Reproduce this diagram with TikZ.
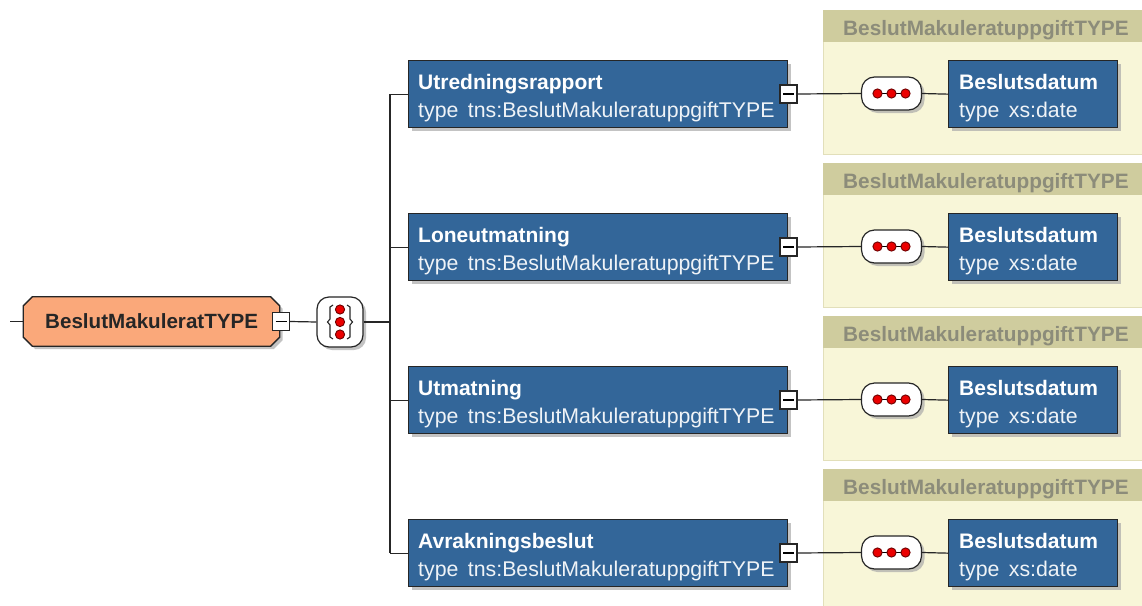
\documentclass[tikz,border=0pt]{standalone}
\usepackage{fontspec}
\setmainfont{Liberation Sans}
\usetikzlibrary{shadows,calc}
\definecolor{xblue}{RGB}{51,102,153}
\definecolor{xorange}{RGB}{250,168,122}
\definecolor{xpanel}{RGB}{248,246,216}
\definecolor{xhead}{RGB}{207,204,158}
\definecolor{xheadtext}{RGB}{140,140,122}
\definecolor{xpanelborder}{RGB}{226,223,186}
\definecolor{xdotred}{RGB}{235,0,0}
\definecolor{xdotedge}{RGB}{110,0,0}
\definecolor{xshadow}{RGB}{170,170,170}
\tikzset{
  shd/.style={drop shadow={shadow xshift=3pt,shadow yshift=-3pt,fill=xshadow,opacity=0.7}},
  bluebox/.style={draw=black!85,line width=1.3pt,fill=xblue,minimum width=379pt,minimum height=67pt,inner sep=0pt,shd},
  targetbox/.style={draw=black!85,line width=1.3pt,fill=xblue,minimum width=169pt,minimum height=67pt,inner sep=0pt,shd},
  rootframe/.style={minimum width=256pt,minimum height=49pt,inner sep=0pt},
  rootshape/.style={draw=black!85,line width=1.3pt,fill=xorange,shd},
  minusbox/.style={draw=black!85,line width=1.3pt,fill=white,minimum width=17pt,minimum height=18pt,inner sep=0pt},
  seqbox/.style={draw=black!85,line width=1.2pt,fill=white,rounded corners=13pt,minimum width=60pt,minimum height=33pt,inner sep=0pt,shd},
  choicebox/.style={draw=black!85,line width=1.2pt,fill=white,rounded corners=12pt,minimum width=46pt,minimum height=50pt,inner sep=0pt,shd},
  titletext/.style={font=\fontsize{21}{24}\selectfont\bfseries,text=white,inner sep=0pt,anchor=base west},
  typetext/.style={font=\fontsize{21.3}{24}\selectfont,text=white!92!xblue,inner sep=0pt,anchor=base west},
  roottext/.style={font=\fontsize{20.6}{24}\selectfont\bfseries,text=black!85,inner sep=0pt,anchor=base west},
  headtext/.style={font=\fontsize{20.8}{24}\selectfont\bfseries,text=xheadtext,inner sep=0pt,anchor=base west},
  conn/.style={line width=1.2pt,draw=black!85},
  reddot/.style={fill=xdotred,draw=xdotedge,line width=0.9pt},
  bracket/.style={line width=1.1pt,draw=black!85}
}
\begin{document}
\begin{tikzpicture}[x=1pt,y=-1pt]
\useasboundingbox (0,0) rectangle (1142,605);
\fill[white] (0,0) rectangle (1142,605);

% panels
\foreach \i in {0,1,2,3}{
  \pgfmathsetmacro{\yo}{60+153*\i}
  \pgfmathsetmacro{\pbot}{\i==3 ? 607 : \yo+94}
  \node[draw=xpanelborder,line width=1pt,fill=xpanel,minimum width=321pt,minimum height=\pbot-\yo+50,inner sep=0pt,anchor=north west] (p\i) at (822.5,\yo-50.5) {};
  \node[fill=xhead,minimum width=320pt,minimum height=32pt,inner sep=0pt,anchor=north west] (h\i) at (823,\yo-50) {};
  \node[headtext] (ht\i) at (843,\yo-25) {BeslutMakuleratuppgiftTYPE};
}

% root
\node[rootframe] (root) at (151.5,321.5) {};
\path[rootshape] ([xshift=9pt]root.north west) -- ([xshift=-9pt]root.north east) -- ([yshift=-9pt]root.north east) -- ([yshift=9pt]root.south east) -- ([xshift=-9pt]root.south east) -- ([xshift=9pt]root.south west) -- ([yshift=9pt]root.south west) -- ([yshift=-9pt]root.north west) -- cycle;
\node[roottext] (rootlbl) at (45,328) {BeslutMakuleratTYPE};
\coordinate (rootin) at (10,321.5);
\draw[conn] (rootin) -- (root.west);
\node[minusbox] (rm) at (281,321.5) {};
\draw[line width=1.4pt] ([xshift=-5.5pt]rm.center) -- ([xshift=5.5pt]rm.center);

% choice
\node[choicebox] (ch) at (340,322) {};
\draw[conn] (rm.east) -- (ch.west);
\foreach \dy in {-12.5,0,12.5}{
  \filldraw[reddot] ([yshift=\dy pt]ch.center) circle[radius=4.6pt];
}
\draw[bracket] ([shift={(-7,-17)}]ch.center) -- ([shift={(-10,-15)}]ch.center) -- ([shift={(-10,-3)}]ch.center) -- ([shift={(-12.5,0)}]ch.center) -- ([shift={(-10,3)}]ch.center) -- ([shift={(-10,15)}]ch.center) -- ([shift={(-7,17)}]ch.center);
\draw[bracket] ([shift={(7,-17)}]ch.center) -- ([shift={(10,-15)}]ch.center) -- ([shift={(10,-3)}]ch.center) -- ([shift={(12.5,0)}]ch.center) -- ([shift={(10,3)}]ch.center) -- ([shift={(10,15)}]ch.center) -- ([shift={(7,17)}]ch.center);
\coordinate (bus) at (390,322);
\draw[conn] (ch.east) -- (bus);

% rows
\foreach \i/\nm in {0/Utredningsrapport,1/Loneutmatning,2/Utmatning,3/Avrakningsbeslut}{
  \pgfmathsetmacro{\yo}{60+153*\i}
  \node[bluebox,anchor=north west] (e\i) at (408,\yo) {};
  \node[titletext] (et\i) at (418,\yo+29) {\nm};
  \node[typetext] (ety\i) at (418,\yo+57) {type\ \,tns:BeslutMakuleratuppgiftTYPE};
  \node[minusbox] (m\i) at (788.5,\yo+34) {};
  \draw[line width=1.4pt] ([xshift=-5.5pt]m\i.center) -- ([xshift=5.5pt]m\i.center);
  \node[seqbox] (s\i) at (891.5,\yo+33.5) {};
  \draw[line width=1.1pt] ([xshift=-14pt]s\i.center) -- ([xshift=14pt]s\i.center);
  \foreach \dx in {-14,0,14}{
    \filldraw[reddot] ([xshift=\dx pt]s\i.center) circle[radius=4.6pt];
  }
  \node[targetbox,anchor=north west] (t\i) at (948,\yo) {};
  \node[titletext] (tt\i) at (959,\yo+29) {Beslutsdatum};
  \node[typetext] (tty\i) at (959,\yo+57) {type\ \,xs:date};
  \draw[conn] (bus |- e\i.west) -- (e\i.west);
  \draw[conn] (m\i.east) -- (s\i.west);
  \draw[conn] (s\i.east) -- (t\i.west);
}
\draw[conn] (bus |- e0.west) -- (bus |- e3.west);
\end{tikzpicture}
\end{document}
